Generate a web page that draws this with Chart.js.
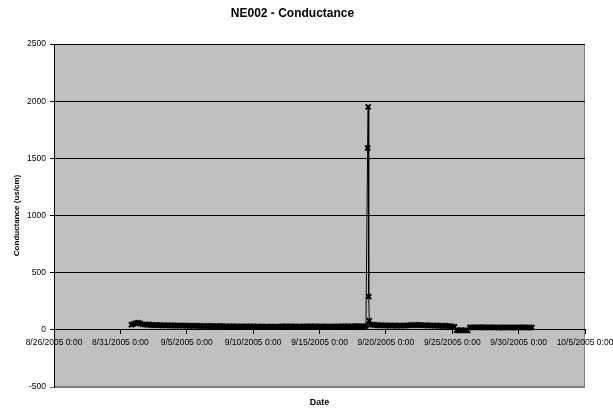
<!DOCTYPE html>
<html><head><meta charset="utf-8">
<script src="https://cdn.jsdelivr.net/npm/chart.js@4"></script>
<style>html,body{margin:0;padding:0;background:#fff}</style>
</head><body>
<canvas id="c" width="613" height="411"></canvas>
<script>
// ---- data ----
const axisStart = '2005-08-26T00:00';
const startTime = '2005-08-31T20:00';
const intervalHours = 4;
const conductance = [
 44,
 52,58,63,55,48,46, // 9/1
 44,47,42,40,43,41, // 9/2
 40,38,41,39,37,40, // 9/3
 38,36,39,37,36,38, // 9/4
 36,35,37,34,36,35, // 9/5
 34,33,35,33,32,34, // 9/6
 33,31,32,34,31,30, // 9/7
 31,30,29,31,30,29, // 9/8
 30,28,29,31,28,29, // 9/9
 29,28,30,27,29,28, // 9/10
 28,27,29,28,26,28, // 9/11
 29,30,28,31,29,30, // 9/12
 28,29,27,30,28,29, // 9/13
 30,29,31,28,30,29, // 9/14
 29,28,30,29,27,28, // 9/15
 29,30,28,29,31,30, // 9/16
 30,31,29,30,32,31, // 9/17
 32,30,31,33,1950,45, // 9/18
 44,42,40,39,41,38, // 9/19
 38,37,39,36,38,37, // 9/20
 37,36,38,37,39,40, // 9/21
 41,42,40,43,41,39, // 9/22
 40,38,39,37,36,38, // 9/23
 36,35,34,36,33,32, // 9/24
 30,26,-4,-6,-3,-5, // 9/25
 -4,-6,20,22,21,23, // 9/26
 22,21,23,20,22,21, // 9/27
 21,20,22,19,21,20, // 9/28
 20,22,21,19,20,22, // 9/29
 21,20,22,21,19,20, // 9/30
 21                 // 10/1
];
const spikeTimes = ['2005-09-18T15:00','2005-09-18T17:00','2005-09-18T18:00'];
const spikeValues = [1590, 290, 80];
const yTicksMin = -500, yTicksMax = 2500, yStep = 500;
const xDaysMax = 40, xStepDays = 5;

// ---- build ----
const dayMs = 864e5;
const t0 = Date.parse(axisStart + ':00Z');
const dayOffset = s => (Date.parse(s + ':00Z') - t0) / dayMs;
const s0 = dayOffset(startTime);
let points = conductance.map((v, i) => ({x: s0 + i * intervalHours / 24, y: v}));
spikeTimes.forEach((t, i) => points.push({x: dayOffset(t), y: spikeValues[i]}));
points.sort((a, b) => a.x - b.x);
const fmtDate = v => {
  const d = new Date(t0 + v * dayMs);
  return (d.getUTCMonth() + 1) + '/' + d.getUTCDate() + '/' + d.getUTCFullYear() + ' 0:00';
};

const F = "'Liberation Sans', Arial, sans-serif";
const plotBg = {
  id: 'plotBg',
  beforeDraw(chart) {
    const {ctx, chartArea: a} = chart;
    ctx.save();
    ctx.fillStyle = '#C0C0C0';
    ctx.fillRect(a.left, a.top, a.width, a.height);
    ctx.strokeStyle = '#808080';
    ctx.lineWidth = 1;
    ctx.strokeRect(a.left + 0.5, a.top + 0.5, a.width - 1, a.height - 1);
    ctx.restore();
  }
};

new Chart(document.getElementById('c'), {
  type: 'line',
  data: {datasets: [{
    data: points,
    borderColor: '#000', borderWidth: 1, tension: 0,
    pointStyle: 'crossRot', pointRadius: 3.5, pointBorderColor: '#000',
    pointBackgroundColor: '#000', pointBorderWidth: 2,
    xAxisID: 'x', yAxisID: 'y'
  }]},
  options: {
    responsive: false, animation: false, devicePixelRatio: 1,
    layout: {padding: {left: 0, right: 28, top: 0, bottom: 0}},
    plugins: {
      legend: {display: false}, tooltip: {enabled: false},
      title: {display: true, text: 'NE002 - Conductance', color: '#000',
        font: {family: F, size: 12, weight: 'bold'}, padding: {top: 6.5, bottom: 23.1}}
    },
    scales: {
      x: {type: 'linear', position: 'bottom', min: 0, max: xDaysMax,
        ticks: {display: false}, grid: {display: false}, border: {display: false},
        title: {display: true, text: 'Date', color: '#000', font: {family: F, size: 9, weight: 'bold'}, padding: {top: 0, bottom: 3}},
        afterFit(s) { s.height = 24; }
      },
      x0: {type: 'linear', position: {y: 0}, min: 0, max: xDaysMax,
        ticks: {stepSize: xStepDays, autoSkip: false, maxRotation: 0, minRotation: 0, padding: 4,
          color: '#000', font: {family: F, size: 8.5}, callback: v => fmtDate(v)},
        grid: {drawOnChartArea: false, drawTicks: true, tickLength: 4, color: '#000'},
        border: {display: true, color: '#000', width: 1},
        afterFit(s) { s.height = 0; s.paddingLeft = 0; s.paddingRight = 0; }
      },
      y: {min: yTicksMin, max: yTicksMax,
        ticks: {stepSize: yStep, color: '#000', font: {family: F, size: 8.5}, padding: 4, callback: v => String(v)},
        grid: {color: c => (c.tick && c.tick.value === yTicksMin) ? '#808080' : '#000', tickLength: 4},
        border: {color: '#000'},
        title: {display: true, text: 'Conductance (us/cm)', color: '#000', font: {family: F, size: 8, weight: 'bold'}, padding: {top: 12, bottom: 0}},
        afterFit(s) { s.width = 54; }
      }
    }
  },
  plugins: [plotBg]
});
</script>
</body></html>
